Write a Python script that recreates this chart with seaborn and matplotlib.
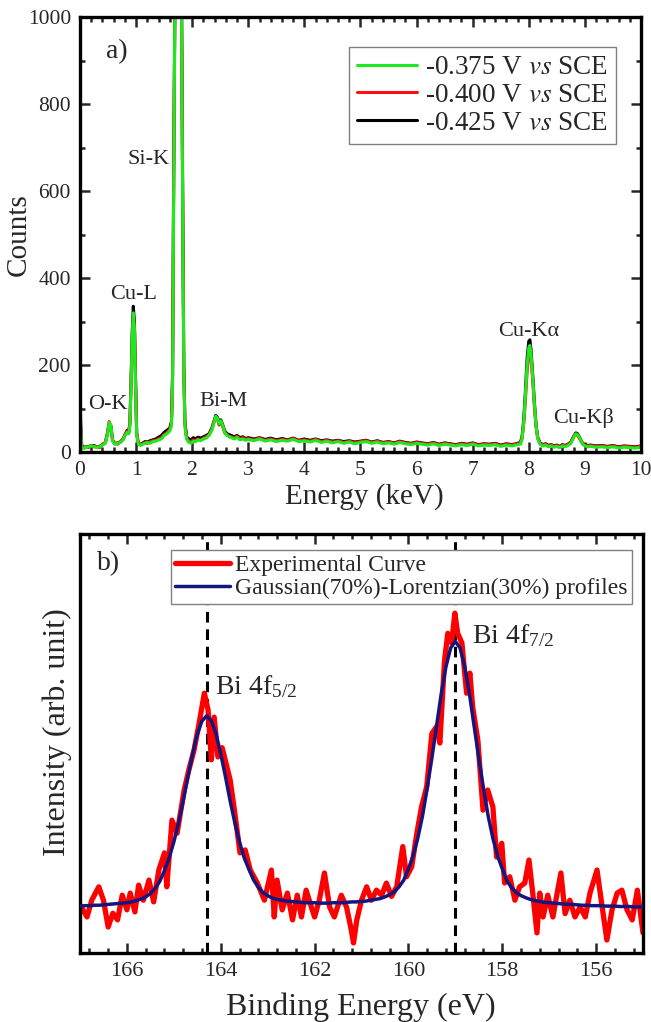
import matplotlib
matplotlib.use("Agg")
import matplotlib.pyplot as plt
from matplotlib.ticker import MultipleLocator
import seaborn as sns
import pandas as pd

sns.set_style("ticks")
plt.rcParams["font.family"] = ["Liberation Serif", "DejaVu Serif"]
plt.rcParams["mathtext.fontset"] = "stix"

# EDS spectra (panel a), energies in keV
energy_kev = [
    0.00, 0.01, 0.03, 0.06, 0.10, 0.15, 0.20, 0.25, 0.30, 0.35,
    0.40, 0.45, 0.49, 0.52, 0.55, 0.58, 0.62, 0.67, 0.72, 0.77,
    0.81, 0.84, 0.87, 0.89, 0.91, 0.93, 0.95, 0.97, 0.99, 1.01, 1.04,
    1.08, 1.12, 1.16, 1.20, 1.25, 1.30, 1.35, 1.40, 1.45, 1.50, 1.55, 1.60,
    1.63, 1.65, 1.67, 1.69, 1.71, 1.73, 1.75, 1.77, 1.79, 1.81, 1.83, 1.85, 1.87, 1.90,
    1.94, 1.98, 2.02, 2.06, 2.10, 2.15, 2.20, 2.25, 2.30, 2.35,
    2.39, 2.42, 2.45, 2.48, 2.51, 2.54, 2.58, 2.62, 2.66, 2.70,
    2.75, 2.80, 2.85, 2.90, 2.95, 3.00,
    3.1, 3.2, 3.3, 3.4, 3.5, 3.6, 3.7, 3.8, 3.9, 4.0,
    4.1, 4.2, 4.3, 4.4, 4.5, 4.6, 4.7, 4.8, 4.9, 5.0,
    5.1, 5.2, 5.3, 5.4, 5.5, 5.6, 5.7, 5.8, 5.9, 6.0,
    6.1, 6.2, 6.3, 6.4, 6.5, 6.6, 6.7, 6.8, 6.9, 7.0,
    7.1, 7.2, 7.3, 7.4, 7.5, 7.6, 7.7, 7.8,
    7.85, 7.88, 7.91, 7.94, 7.97, 8.00, 8.02, 8.04, 8.07, 8.10, 8.13, 8.16, 8.20, 8.25, 8.30,
    8.35, 8.40, 8.45, 8.50, 8.55, 8.60, 8.65, 8.70, 8.75, 8.78,
    8.81, 8.84, 8.87, 8.90, 8.93, 8.96, 9.00, 9.05, 9.10, 9.20,
    9.30, 9.40, 9.50, 9.60, 9.70, 9.80, 9.90, 10.0,
]

counts_375 = [
    165, 60, 12, 8, 10, 12, 14, 13, 10, 12,
    16, 20, 40, 68, 62, 25, 18, 20, 22, 28,
    40, 45, 42, 60, 150, 260, 320, 280, 150, 40, 18,
    15, 18, 20, 22, 20, 24, 25, 28, 30, 38, 42, 48,
    60, 150, 600, 980, 1600, 2100, 2300, 2100, 1500, 1000, 560, 180, 60, 30,
    22, 20, 25, 24, 28, 26, 30, 32, 38, 50,
    68, 82, 78, 65, 72, 62, 45, 38, 35, 33,
    30, 34, 28, 30, 27, 29,
    26, 30, 25, 28, 24, 27, 25, 29, 24, 26,
    23, 27, 22, 25, 21, 24, 20, 23, 19, 22,
    24, 20, 23, 19, 21, 18, 22, 19, 17, 20,
    18, 16, 19, 15, 18, 16, 14, 17, 15, 18,
    14, 16, 15, 17, 13, 16, 14, 17,
    18, 30, 70, 130, 200, 240, 245, 225, 170, 110, 60, 30, 18, 14, 16,
    12, 14, 11, 13, 10, 14, 12, 15, 20, 28,
    36, 42, 40, 34, 26, 18, 14, 12, 13, 11,
    12, 10, 12, 9, 11, 10, 9, 11,
]

counts_400 = [
    190, 70, 14, 10, 12, 10, 15, 12, 12, 10,
    18, 22, 45, 70, 58, 28, 20, 18, 24, 30,
    42, 48, 45, 70, 160, 250, 310, 290, 160, 45, 20,
    17, 20, 22, 20, 24, 26, 27, 30, 33, 40, 45, 52,
    65, 170, 620, 990, 1600, 2100, 2300, 2100, 1500, 1020, 580, 190, 65, 32,
    25, 24, 28, 26, 30, 28, 32, 35, 40, 52,
    70, 80, 75, 62, 70, 60, 44, 40, 36, 35,
    32, 36, 30, 33, 29, 31,
    28, 32, 27, 30, 26, 29, 27, 31, 26, 28,
    25, 29, 24, 27, 23, 26, 22, 25, 21, 24,
    26, 22, 25, 21, 23, 20, 24, 21, 19, 22,
    20, 18, 21, 17, 20, 18, 16, 19, 17, 20,
    16, 18, 17, 19, 15, 18, 16, 19,
    20, 32, 65, 120, 185, 225, 232, 215, 165, 105, 58, 32, 20, 16, 18,
    14, 16, 13, 15, 12, 16, 14, 17, 22, 30,
    38, 40, 38, 32, 25, 19, 16, 14, 15, 13,
    14, 12, 14, 11, 13, 12, 11, 13,
]

counts_425 = [
    175, 65, 15, 11, 11, 13, 14, 15, 11, 13,
    17, 21, 42, 66, 60, 27, 19, 21, 23, 30,
    42, 50, 46, 68, 165, 275, 335, 300, 165, 42, 19,
    18, 21, 24, 23, 26, 28, 30, 34, 38, 45, 50, 55,
    70, 180, 640, 1000, 1650, 2150, 2350, 2150, 1550, 1050, 600, 200, 70, 35,
    30, 28, 33, 30, 34, 32, 35, 38, 42, 55,
    72, 84, 80, 68, 74, 64, 48, 42, 40, 38,
    35, 38, 33, 35, 31, 33,
    30, 33, 29, 32, 28, 31, 28, 32, 27, 30,
    27, 30, 26, 28, 25, 27, 24, 26, 23, 25,
    27, 23, 26, 22, 24, 21, 25, 22, 20, 23,
    21, 19, 22, 18, 21, 19, 17, 20, 18, 21,
    17, 19, 18, 20, 16, 19, 17, 20,
    22, 35, 75, 140, 215, 255, 258, 235, 178, 115, 62, 33, 21, 17, 19,
    15, 17, 14, 16, 13, 17, 15, 18, 23, 31,
    38, 44, 42, 35, 27, 20, 17, 15, 16, 14,
    15, 13, 15, 12, 14, 13, 12, 14,
]

potentials = ["-0.375 V $\\it{vs}$ SCE", "-0.400 V $\\it{vs}$ SCE", "-0.425 V $\\it{vs}$ SCE"]
eds_colors = ["#1ee81e", "#ff1010", "#000000"]

# peak labels (panel a)
eds_labels = ["O-K", "Cu-L", "Si-K", "Bi-M", "Cu-K\u03b1", "Cu-K\u03b2"]
eds_label_x = [0.50, 0.95, 1.23, 2.55, 7.99, 8.97]
eds_label_y = [110, 363, 673, 117, 276, 78]

# XPS Bi 4f (panel b)
be_exp = [
    167.0, 166.85, 166.75, 166.6, 166.5, 166.4, 166.3, 166.2, 166.1, 166.0,
    165.93, 165.83, 165.75, 165.65, 165.53, 165.43, 165.32, 165.2, 165.15, 165.04,
    164.93, 164.78, 164.68, 164.57, 164.46, 164.35, 164.27, 164.2, 164.14, 164.06,
    163.97, 163.8, 163.7, 163.59, 163.48, 163.37, 163.22, 163.07, 162.92, 162.86,
    162.8, 162.69, 162.58, 162.47, 162.37, 162.28, 162.18, 162.07, 162.0, 161.9,
    161.79, 161.68, 161.58, 161.43, 161.32, 161.23, 161.17, 161.1, 161.0, 160.89,
    160.79, 160.68, 160.57, 160.47, 160.36, 160.25, 160.12, 160.04, 159.93, 159.82,
    159.72, 159.61, 159.5, 159.4, 159.33, 159.23, 159.16, 159.08, 159.01, 158.95,
    158.86, 158.76, 158.69, 158.63, 158.52, 158.41, 158.31, 158.2, 158.12, 158.01,
    157.95, 157.84, 157.73, 157.63, 157.52, 157.43, 157.35, 157.26, 157.2, 157.13,
    157.03, 156.92, 156.83, 156.75, 156.66, 156.56, 156.45, 156.34, 156.23, 156.13,
    155.98, 155.87, 155.77, 155.66, 155.55, 155.45, 155.34, 155.23, 155.12, 155.0,
]
int_exp = [
    0.115, 0.086, 0.126, 0.158, 0.126, 0.062, 0.095, 0.079, 0.138, 0.103,
    0.143, 0.098, 0.162, 0.126, 0.174, 0.122, 0.198, 0.239, 0.158, 0.317,
    0.286, 0.389, 0.437, 0.484, 0.549, 0.620, 0.580, 0.461, 0.563, 0.468,
    0.490, 0.413, 0.334, 0.239, 0.246, 0.198, 0.167, 0.126, 0.198, 0.086,
    0.174, 0.103, 0.143, 0.079, 0.138, 0.086, 0.150, 0.110, 0.086, 0.126,
    0.191, 0.110, 0.086, 0.138, 0.110, 0.062, 0.024, 0.079, 0.126, 0.158,
    0.126, 0.150, 0.138, 0.167, 0.135, 0.158, 0.254, 0.182, 0.206, 0.286,
    0.349, 0.397, 0.524, 0.540, 0.501, 0.699, 0.763, 0.740, 0.811, 0.763,
    0.740, 0.620, 0.668, 0.587, 0.508, 0.341, 0.389, 0.349, 0.229, 0.262,
    0.167, 0.182, 0.126, 0.158, 0.167, 0.222, 0.143, 0.048, 0.143, 0.086,
    0.138, 0.086, 0.143, 0.191, 0.094, 0.126, 0.086, 0.110, 0.086, 0.143,
    0.198, 0.110, 0.031, 0.103, 0.143, 0.150, 0.103, 0.079, 0.150, 0.048,
]

be_fit = [
    167.0, 166.9, 166.8, 166.7, 166.6, 166.5, 166.4, 166.3, 166.2, 166.1,
    166.0, 165.9, 165.8, 165.7, 165.6, 165.5, 165.4, 165.3, 165.2, 165.1,
    165.0, 164.9, 164.8, 164.7, 164.6, 164.5, 164.4, 164.3, 164.2, 164.1,
    164.0, 163.9, 163.8, 163.7, 163.6, 163.5, 163.4, 163.3, 163.2, 163.1,
    163.0, 162.9, 162.8, 162.7, 162.6, 162.5, 162.4, 162.3, 162.2, 162.1,
    162.0, 161.9, 161.8, 161.7, 161.6, 161.5, 161.4, 161.3, 161.2, 161.1,
    161.0, 160.9, 160.8, 160.7, 160.6, 160.5, 160.4, 160.3, 160.2, 160.1,
    160.0, 159.9, 159.8, 159.7, 159.6, 159.5, 159.4, 159.3, 159.2, 159.1,
    159.0, 158.9, 158.8, 158.7, 158.6, 158.5, 158.4, 158.3, 158.2, 158.1,
    158.0, 157.9, 157.8, 157.7, 157.6, 157.5, 157.4, 157.3, 157.2, 157.1,
    157.0, 156.9, 156.8, 156.7, 156.6, 156.5, 156.4, 156.3, 156.2, 156.1,
    156.0, 155.9, 155.8, 155.7, 155.6, 155.5, 155.4, 155.3, 155.2, 155.1, 155.0,
]
int_fit = [
    0.112, 0.113, 0.113, 0.114, 0.114, 0.115, 0.116, 0.117, 0.118, 0.119,
    0.120, 0.122, 0.125, 0.129, 0.134, 0.142, 0.154, 0.171, 0.197, 0.227,
    0.265, 0.311, 0.363, 0.421, 0.475, 0.522, 0.554, 0.566, 0.554, 0.523,
    0.475, 0.421, 0.363, 0.311, 0.265, 0.227, 0.200, 0.174, 0.157, 0.144,
    0.137, 0.131, 0.128, 0.126, 0.124, 0.123, 0.122, 0.121, 0.120, 0.120,
    0.120, 0.119, 0.119, 0.119, 0.120, 0.120, 0.120, 0.121, 0.122, 0.122,
    0.123, 0.124, 0.126, 0.128, 0.130, 0.134, 0.139, 0.146, 0.158, 0.174,
    0.201, 0.232, 0.274, 0.327, 0.393, 0.465, 0.542, 0.619, 0.683, 0.728,
    0.744, 0.728, 0.683, 0.619, 0.542, 0.465, 0.393, 0.327, 0.274, 0.232,
    0.201, 0.172, 0.156, 0.144, 0.137, 0.132, 0.128, 0.125, 0.123, 0.121,
    0.120, 0.119, 0.118, 0.117, 0.116, 0.116, 0.115, 0.114, 0.114, 0.113,
    0.113, 0.113, 0.112, 0.112, 0.112, 0.111, 0.111, 0.111, 0.110, 0.110, 0.110,
]

peak_centres = [164.3, 159.0]
peak_names = ["Bi 4f$_{\\mathregular{5/2}}$", "Bi 4f$_{\\mathregular{7/2}}$"]
peak_label_x = [164.12, 158.65]
peak_label_y = [0.616, 0.740]

fig = plt.figure(figsize=(6.51, 10.22), dpi=100)
ax1 = fig.add_axes([0.1229, 0.5577, 0.8617, 0.4256])
ax2 = fig.add_axes([0.1229, 0.0675, 0.8648, 0.41])

# ---- panel a
eds = pd.DataFrame({
    "energy": energy_kev * 3,
    "counts": counts_375 + counts_400 + counts_425,
    "potential": [potentials[0]] * len(energy_kev) + [potentials[1]] * len(energy_kev)
                 + [potentials[2]] * len(energy_kev),
})
draw_order = potentials[::-1]
sns.lineplot(data=eds, x="energy", y="counts", hue="potential", hue_order=draw_order,
             palette=dict(zip(potentials, eds_colors)), estimator=None, sort=False,
             lw=2.2, ax=ax1)
handles, labels = ax1.get_legend_handles_labels()
ax1.legend(handles[::-1], labels[::-1], loc="upper right", bbox_to_anchor=(0.955, 0.931),
           borderaxespad=0, fontsize=19.5, frameon=True, fancybox=False, framealpha=1,
           edgecolor="0.5", handlelength=2.2, handletextpad=0.3, labelspacing=0.1,
           borderpad=0.3)
ax1.get_legend().get_frame().set_linewidth(1.0)

for lab, x, y in zip(eds_labels, eds_label_x, eds_label_y):
    ax1.text(x, y, lab, ha="center", va="center", fontsize=16)
ax1.text(0.066, 0.92, "a)", transform=ax1.transAxes, ha="center", va="center", fontsize=20)

ax1.set_xlim(0, 10)
ax1.set_ylim(0, 1000)
ax1.xaxis.set_major_locator(MultipleLocator(1))
ax1.xaxis.set_minor_locator(MultipleLocator(0.2))
ax1.yaxis.set_major_locator(MultipleLocator(200))
ax1.yaxis.set_minor_locator(MultipleLocator(100))
ax1.tick_params(which="both", direction="in", top=True, right=True, width=1.8)
ax1.tick_params(which="major", length=7, labelsize=15.5, pad=6.5)
ax1.tick_params(which="minor", length=3.5)
ax1.set_xlabel("Energy (keV)", fontsize=21)
ax1.set_ylabel("Counts", fontsize=21)
ax1.xaxis.set_label_coords(0.506, -0.072)
ax1.yaxis.set_label_coords(-0.0856, 0.5)

# ---- panel b
for c in peak_centres:
    ax2.axvline(c, color="black", ls=(0, (3.5, 2.2)), lw=2.2, zorder=1)
sns.lineplot(x=be_exp, y=int_exp, color="#ff0000", lw=3.8, estimator=None, sort=False,
             label="Experimental Curve", ax=ax2, zorder=2)
sns.lineplot(x=be_fit, y=int_fit, color="#15157f", lw=2.5, estimator=None, sort=False,
             label="Gaussian(70%)-Lorentzian(30%) profiles", ax=ax2, zorder=3)
ax2.legend(loc="upper right", bbox_to_anchor=(0.98, 0.962), borderaxespad=0, fontsize=17,
           frameon=True, fancybox=False, framealpha=1, edgecolor="0.5", handlelength=2.3,
           handletextpad=0.2, labelspacing=0.05, borderpad=0.2)
ax2.get_legend().get_frame().set_linewidth(1.0)

for name, x, y in zip(peak_names, peak_label_x, peak_label_y):
    ax2.text(x, y, name, ha="left", va="baseline", fontsize=20)
ax2.text(0.05, 0.93, "b)", transform=ax2.transAxes, ha="center", va="center", fontsize=20)

ax2.set_xlim(167, 155)
ax2.set_ylim(0, 1)
ax2.set_yticks([])
ax2.xaxis.set_major_locator(MultipleLocator(2))
ax2.xaxis.set_minor_locator(MultipleLocator(0.4))
ax2.tick_params(which="both", direction="in", top=True, bottom=True, left=False,
                right=False, width=1.8)
ax2.tick_params(which="major", length=7, labelsize=16, pad=6.5)
ax2.tick_params(which="minor", length=3.5)
ax2.set_xlabel("Binding Energy (eV)", fontsize=23)
ax2.set_ylabel("Intensity (arb. unit)", fontsize=23)
ax2.xaxis.set_label_coords(0.499, -0.095)
ax2.yaxis.set_label_coords(-0.0142, 0.527)

for ax in (ax1, ax2):
    for sp in ax.spines.values():
        sp.set_linewidth(2.4)
        sp.set_color("black")

fig.savefig("out.png", dpi=100)
